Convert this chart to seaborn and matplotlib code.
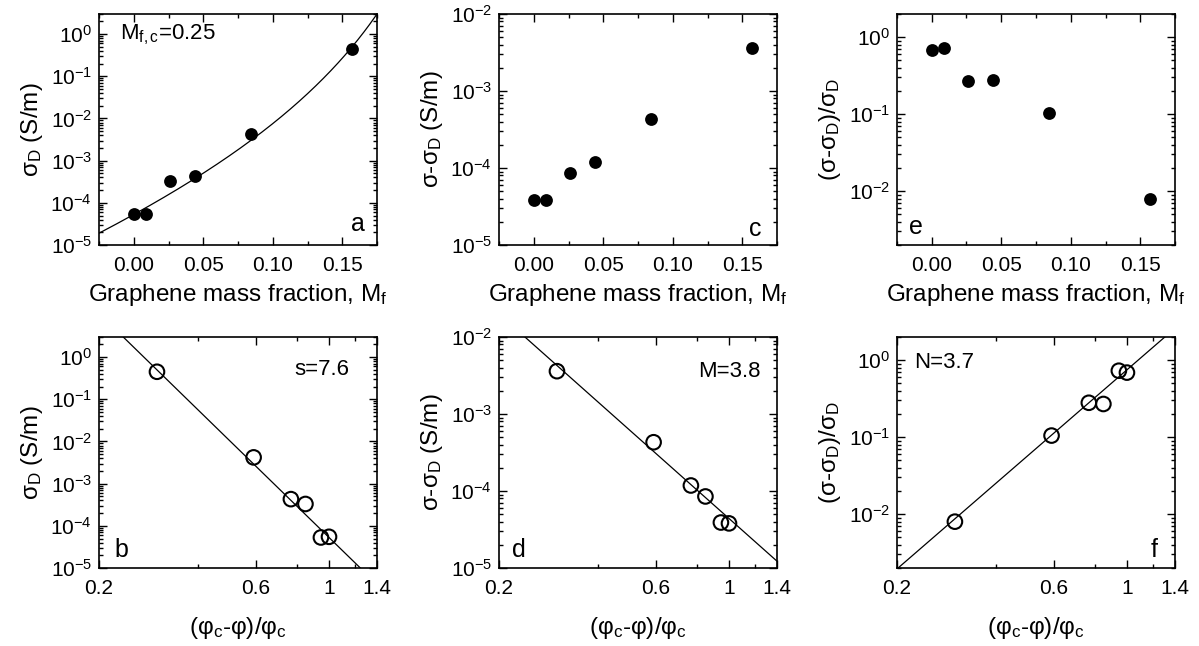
import matplotlib.pyplot as plt
import matplotlib.ticker as mticker
import numpy as np
import pandas as pd
import seaborn as sns

mass_frac = [0.0, 0.009, 0.026, 0.044, 0.084, 0.157]
reduced_phi = [1.0, 0.945, 0.848, 0.766, 0.59, 0.30]   # (phi_c - phi)/phi_c
sigma_D = [5.5e-5, 5.3e-5, 3.3e-4, 4.3e-4, 4.2e-3, 0.45]
sigma_diff = [3.8e-5, 3.9e-5, 8.5e-5, 1.18e-4, 4.3e-4, 3.6e-3]
sigma_ratio = [0.69, 0.73, 0.27, 0.28, 0.105, 0.008]

# fit parameters
MFC = 0.25          # critical mass fraction
K_DENS = 1.53       # mass -> volume fraction conversion factor
S_EXP, S_PRE = 7.6, 5.3e-5
M_EXP, M_PRE = 3.8, 4.4e-5
N_EXP, N_PRE = 3.7, 0.75

df = pd.DataFrame({"Mf": mass_frac, "x": reduced_phi, "sD": sigma_D,
                   "diff": sigma_diff, "ratio": sigma_ratio})

sns.set_style("ticks")
plt.rcParams["font.family"] = ["Liberation Sans", "DejaVu Sans"]
plt.rcParams["mathtext.fontset"] = "custom"
plt.rcParams["mathtext.rm"] = "Liberation Sans"
plt.rcParams["mathtext.it"] = "Liberation Sans:italic"
plt.rcParams["axes.linewidth"] = 1.2
for k in ["axes.edgecolor", "xtick.color", "ytick.color", "text.color", "axes.labelcolor"]:
    plt.rcParams[k] = "black"

TICK_FS = 15
LAB_FS = 17.5
ANN_FS = 16

fig = plt.figure(figsize=(11.99, 6.46), dpi=100)
lefts = [0.0826, 0.4162, 0.7481]
W, H = 0.2319, 0.3576
top_b, bot_b = 0.6207, 0.1207
axes_top = [fig.add_axes([l, top_b, W, H]) for l in lefts]
axes_bot = [fig.add_axes([l, bot_b, W, H]) for l in lefts]


def style(ax):
    ax.set_yscale("log")
    ax.tick_params(which="both", direction="in", top=True, right=True,
                   labelsize=TICK_FS, width=1.0)
    ax.tick_params(which="major", length=6)
    ax.tick_params(which="minor", length=3)
    ax.tick_params(axis="x", which="both", pad=8)
    ax.tick_params(axis="y", which="both", pad=5)
    ax.yaxis.set_major_locator(mticker.LogLocator(base=10, numticks=20))
    ax.yaxis.set_minor_locator(mticker.LogLocator(base=10, subs=np.arange(2, 10), numticks=20))
    ax.yaxis.set_minor_formatter(mticker.NullFormatter())


def top_x(ax):
    ax.set_xlim(-0.025, 0.175)
    ax.xaxis.set_major_locator(mticker.FixedLocator([0.0, 0.05, 0.10, 0.15]))
    ax.xaxis.set_minor_locator(mticker.FixedLocator([-0.025, 0.025, 0.075, 0.125, 0.175]))
    ax.xaxis.set_major_formatter(mticker.FormatStrFormatter("%.2f"))
    ax.set_xlabel("Graphene mass fraction, M$_\\mathregular{f}$", fontsize=LAB_FS, labelpad=5)


def bot_x(ax):
    ax.set_xscale("log")
    ax.set_xlim(0.2, 1.4)
    ax.xaxis.set_major_locator(mticker.FixedLocator([0.2, 0.6, 1.0, 1.4]))
    ax.xaxis.set_major_formatter(mticker.FixedFormatter(["0.2", "0.6", "1", "1.4"]))
    ax.xaxis.set_minor_locator(mticker.FixedLocator([0.4, 0.8, 1.2]))
    ax.xaxis.set_minor_formatter(mticker.NullFormatter())
    ax.set_xlabel("(φ$_\\mathregular{c}$-φ)/φ$_\\mathregular{c}$", fontsize=LAB_FS, labelpad=12)


filled = dict(s=85, color="black", edgecolor="black", linewidth=0, legend=False, zorder=3)
hollow = dict(s=110, facecolor="none", edgecolor="black", linewidth=1.5, legend=False, zorder=3)

lab_sD = "σ$_\\mathregular{D}$ (S/m)"
lab_diff = "σ-σ$_\\mathregular{D}$ (S/m)"
lab_ratio = "(σ-σ$_\\mathregular{D}$)/σ$_\\mathregular{D}$"

# ---- panel a
ax = axes_top[0]
style(ax)
mf_grid = np.linspace(-0.025, 0.175, 300)
vol = (mf_grid / MFC) * (1 + K_DENS * MFC) / (1 + K_DENS * mf_grid)
sns.lineplot(x=mf_grid, y=S_PRE * (1 - vol) ** (-S_EXP), color="black", lw=0.9,
             estimator=None, ax=ax)
sns.scatterplot(data=df, x="Mf", y="sD", ax=ax, **filled)
top_x(ax)
ax.set_ylim(1e-5, 3)
ax.set_ylabel(lab_sD, fontsize=LAB_FS)
ax.text(0.075, 0.91, "M$_\\mathregular{f,c}$=0.25", transform=ax.transAxes, fontsize=ANN_FS, va="center")
ax.text(0.93, 0.09, "a", transform=ax.transAxes, fontsize=ANN_FS + 2, ha="center", va="center")

# ---- panel c
ax = axes_top[1]
style(ax)
sns.scatterplot(data=df, x="Mf", y="diff", ax=ax, **filled)
top_x(ax)
ax.set_ylim(1e-5, 1e-2)
ax.set_ylabel(lab_diff, fontsize=LAB_FS)
ax.text(0.92, 0.07, "c", transform=ax.transAxes, fontsize=ANN_FS + 2, ha="center", va="center")

# ---- panel e
ax = axes_top[2]
style(ax)
sns.scatterplot(data=df, x="Mf", y="ratio", ax=ax, **filled)
top_x(ax)
ax.set_ylim(2e-3, 2)
ax.set_ylabel(lab_ratio, fontsize=LAB_FS)
ax.text(0.07, 0.08, "e", transform=ax.transAxes, fontsize=ANN_FS + 2, ha="center", va="center")

x_grid = np.geomspace(0.2, 1.4, 200)

# ---- panel b
ax = axes_bot[0]
style(ax)
sns.lineplot(x=x_grid, y=S_PRE * x_grid ** (-S_EXP), color="black", lw=0.9, estimator=None, ax=ax)
sns.scatterplot(data=df, x="x", y="sD", ax=ax, **hollow)
bot_x(ax)
ax.set_ylim(1e-5, 3)
ax.set_ylabel(lab_sD, fontsize=LAB_FS)
ax.text(0.80, 0.86, "s=7.6", transform=ax.transAxes, fontsize=ANN_FS, ha="center", va="center")
ax.text(0.08, 0.08, "b", transform=ax.transAxes, fontsize=ANN_FS + 2, ha="center", va="center")

# ---- panel d
ax = axes_bot[1]
style(ax)
sns.lineplot(x=x_grid, y=M_PRE * x_grid ** (-M_EXP), color="black", lw=0.9, estimator=None, ax=ax)
sns.scatterplot(data=df, x="x", y="diff", ax=ax, **hollow)
bot_x(ax)
ax.set_ylim(1e-5, 1e-2)
ax.set_ylabel(lab_diff, fontsize=LAB_FS)
ax.text(0.83, 0.85, "M=3.8", transform=ax.transAxes, fontsize=ANN_FS, ha="center", va="center")
ax.text(0.07, 0.08, "d", transform=ax.transAxes, fontsize=ANN_FS + 2, ha="center", va="center")

# ---- panel f
ax = axes_bot[2]
style(ax)
sns.lineplot(x=x_grid, y=N_PRE * x_grid ** N_EXP, color="black", lw=0.9, estimator=None, ax=ax)
sns.scatterplot(data=df, x="x", y="ratio", ax=ax, **hollow)
bot_x(ax)
ax.set_ylim(2e-3, 2)
ax.set_ylabel(lab_ratio, fontsize=LAB_FS)
ax.text(0.17, 0.89, "N=3.7", transform=ax.transAxes, fontsize=ANN_FS, ha="center", va="center")
ax.text(0.925, 0.08, "f", transform=ax.transAxes, fontsize=ANN_FS + 2, ha="center", va="center")

fig.savefig("out.png", dpi=100)
